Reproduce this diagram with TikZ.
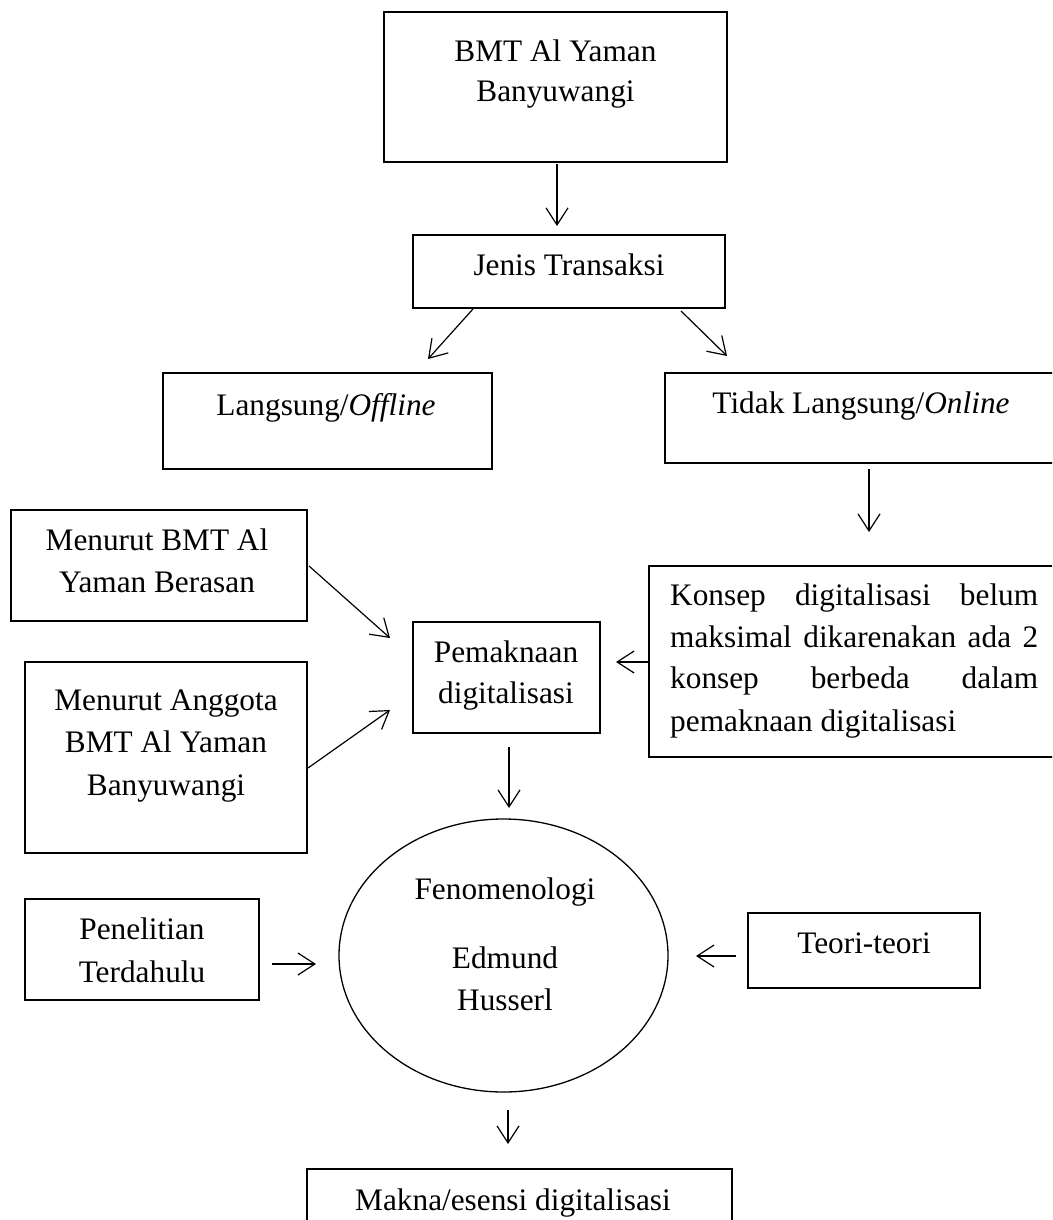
\documentclass[tikz,border=0pt]{standalone}
\usepackage{fontspec}
\setmainfont{Liberation Serif}
\usetikzlibrary{arrows.meta,shapes.geometric}
\newcommand\diagfont{\fontsize{31.3}{41}\selectfont}
\tikzset{
  box/.style={draw, line width=1.3pt, inner sep=0pt, rectangle},
  txt/.style={font=\diagfont, inner sep=0pt, anchor=base},
  arr/.style={-{Straight Barb[length=17pt,width=22pt]}, line width=1.2pt},
}
\begin{document}
\begin{tikzpicture}[x=1pt,y=-1pt]
\useasboundingbox (0,0) rectangle (1052,1220);
\clip (0,0) rectangle (1052,1220);
\fill[white] (0,0) rectangle (1052,1220);
% boxes
\node[box, minimum width=343pt, minimum height=150pt] (bmt) at (555.5,87) {};
\node[box, minimum width=312pt, minimum height=73pt] (jenis) at (569,271.5) {};
\node[box, minimum width=329pt, minimum height=96pt] (langsung) at (327.5,421) {};
\node[box, minimum width=400pt, minimum height=90pt] (tidak) at (865,418) {};
\node[box, minimum width=416pt, minimum height=191pt] (konsep) at (857,661.5) {};
\node[box, minimum width=296pt, minimum height=111pt] (menurut1) at (159,565.5) {};
\node[box, minimum width=282pt, minimum height=191pt] (menurut2) at (166,757.5) {};
\node[box, minimum width=187pt, minimum height=111pt] (pemaknaan) at (506.5,677.5) {};
\node[draw, ellipse, line width=1.3pt, inner sep=0pt, minimum width=329pt, minimum height=273pt] (fen) at (503.5,955.5) {};
\node[box, minimum width=234pt, minimum height=101pt] (penelitian) at (142,949.5) {};
\node[box, minimum width=232pt, minimum height=75pt] (teori) at (864,950.5) {};
\node[box, minimum width=425pt, minimum height=100pt] (makna) at (519.5,1219) {};
% texts
\node[txt] (t1a) at (555.5,62) {BMT Al Yaman};
\node[txt] (t1b) at (555.5,102) {Banyuwangi};
\node[txt] (t2) at (569,275) {Jenis Transaksi};
\node[txt] (t3) at (326,415) {Langsung/\textit{Offline}};
\node[txt] (t4) at (861,413) {Tidak Langsung/\textit{Online}};
\node[txt, anchor=base west] (t5a) at (670,605) {\makebox[368pt][s]{Konsep digitalisasi belum}};
\node[txt, anchor=base west] (t5b) at (670,647) {\makebox[368pt][s]{maksimal dikarenakan ada 2}};
\node[txt, anchor=base west] (t5c) at (670,688) {\makebox[368pt][s]{konsep berbeda dalam}};
\node[txt, anchor=base west] (t5d) at (670,731) {pemaknaan digitalisasi};
\node[txt] (t6a) at (157,550) {Menurut BMT Al};
\node[txt] (t6b) at (157,592) {Yaman Berasan};
\node[txt] (t7a) at (166,710) {Menurut Anggota};
\node[txt] (t7b) at (166,752) {BMT Al Yaman};
\node[txt] (t7c) at (166,795) {Banyuwangi};
\node[txt] (t8a) at (506,662) {Pemaknaan};
\node[txt] (t8b) at (506,703) {digitalisasi};
\node[txt] (t9a) at (505,899) {Fenomenologi};
\node[txt] (t9b) at (505,968) {Edmund};
\node[txt] (t9c) at (505,1010) {Husserl};
\node[txt] (t10a) at (142,939) {Penelitian};
\node[txt] (t10b) at (142,982) {Terdahulu};
\node[txt] (t11) at (864,953) {Teori-teori};
\node[txt] (t12) at (513,1210) {Makna/esensi digitalisasi};
% arrow end points
\coordinate (a1s) at (557,164); \coordinate (a1e) at (557,226);
\coordinate (a2s) at (473,309); \coordinate (a2e) at (428,359);
\coordinate (a3s) at (681,311); \coordinate (a3e) at (727,356);
\coordinate (a4s) at (869,469); \coordinate (a4e) at (869,532);
\coordinate (a5s) at (649,662); \coordinate (a5e) at (616,662);
\coordinate (a6s) at (309,566); \coordinate (a6e) at (390,638);
\coordinate (a7s) at (308,768); \coordinate (a7e) at (390,710);
\coordinate (a8s) at (509,747); \coordinate (a8e) at (509,808);
\coordinate (a9s) at (272,964); \coordinate (a9e) at (316,964);
\coordinate (a10s) at (736,956); \coordinate (a10e) at (696,956);
\coordinate (a11s) at (508,1110); \coordinate (a11e) at (508,1144);
% arrows
\draw[arr] (a1s) -- (a1e);
\draw[arr] (a2s) -- (a2e);
\draw[arr] (a3s) -- (a3e);
\draw[arr] (a4s) -- (a4e);
\draw[arr] (a5s) -- (a5e);
\draw[arr] (a6s) -- (a6e);
\draw[arr] (a7s) -- (a7e);
\draw[arr] (a8s) -- (a8e);
\draw[arr] (a9s) -- (a9e);
\draw[arr] (a10s) -- (a10e);
\draw[arr] (a11s) -- (a11e);
\end{tikzpicture}
\end{document}
